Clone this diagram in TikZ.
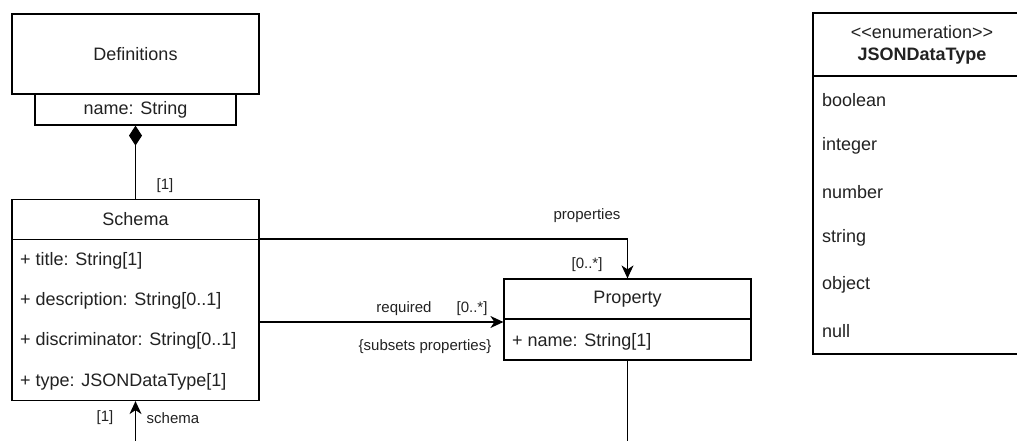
\documentclass[tikz,border=0pt]{standalone}
\usepackage{fontspec}
\setmainfont{Liberation Sans}
\usetikzlibrary{arrows.meta}
\definecolor{ink}{HTML}{222222}
\begin{document}
\begin{tikzpicture}[x=1pt,y=-1pt,
  box/.style={draw=black, line width=1.2pt, fill=white, inner sep=0pt,
    text=ink, font=\fontsize{18}{21}\selectfont},
  attr/.style={anchor=west, inner sep=0pt, text=ink, font=\fontsize{18}{21}\selectfont},
  lbl/.style={inner sep=0pt, text=ink, font=\fontsize{15}{18}\selectfont},
  link/.style={draw=black, line width=1.2pt},
  assoc/.style={link, -{Stealth[length=13pt,width=12pt,inset=4pt]}},
  compo/.style={link, {Diamond[length=20pt,width=13pt]}-}
]
\useasboundingbox (0,0) rectangle (1017,441);
\clip (0,0) rectangle (1017,441);
\fill[white] (0,0) rectangle (1017,441);

% Definitions class with its qualifier
\node[box, minimum width=247pt, minimum height=80pt] (defs) at (135.5,54) {Definitions};
\node[box, minimum width=201pt, minimum height=31pt] (qual) at (135.5,109.5) {name: String};

% Schema class
\node[box, minimum width=247pt, minimum height=40pt] (schemahead) at (135.5,219.5) {Schema};
\node[box, minimum width=247pt, minimum height=161pt] (schemabody) at (135.5,320) {};
\node[attr] (sa1) at (20,261) {+ title: String[1]};
\node[attr] (sa2) at (20,301) {+ description: String[0..1]};
\node[attr] (sa3) at (20,341) {+ discriminator: String[0..1]};
\node[attr] (sa4) at (20,382) {+ type: JSONDataType[1]};

% Property class
\node[box, minimum width=247pt, minimum height=40pt] (prophead) at (627.5,299) {Property};
\node[box, minimum width=247pt, minimum height=41pt] (propbody) at (627.5,339.5) {};
\node[attr] (pa1) at (512,342) {+ name: String[1]};

% JSONDataType enumeration
\node[box, minimum width=218pt, minimum height=63pt, align=center] (enumhead) at (922,44.5)
  {{<}{<}enumeration{>}{>}\\[1pt]\textbf{JSONDataType}};
\node[box, minimum width=218pt, minimum height=278pt] (enumbody) at (922,215) {};
\node[attr] (e1) at (822,100) {boolean};
\node[attr] (e2) at (822,146) {integer};
\node[attr] (e3) at (822,192) {number};
\node[attr] (e4) at (822,238) {string};
\node[attr] (e5) at (822,285) {object};
\node[attr] (e6) at (822,331) {null};

% Composition Definitions -> Schema
\draw[compo] (qual.south) -- (schemahead.north);
\node[lbl] (m1) at (165,186) {[1]};

% properties association
\draw[assoc] (schemabody.north east) -| (prophead.north);
\node[lbl] (lprop) at (587,216) {properties};
\node[lbl] (mprop) at (587,265) {[0..*]};

% required association
\draw[assoc] (schemabody.east |- 0,322) -- (propbody.west |- 0,322);
\node[lbl] (lreq) at (404,309) {required};
\node[lbl] (mreq) at (472,309) {[0..*]};
\node[lbl] (sreq) at (425,347) {\{subsets properties\}};

% links continuing below
\coordinate (schemain) at (135.5,441);
\coordinate (propout) at (627.5,441);
\draw[assoc] (schemain) -- (schemabody.south);
\draw[link] (propbody.south) -- (propout);
\node[lbl] (mschema) at (105,418) {[1]};
\node[lbl] (lschema) at (173,418) {schema};
\end{tikzpicture}
\end{document}
